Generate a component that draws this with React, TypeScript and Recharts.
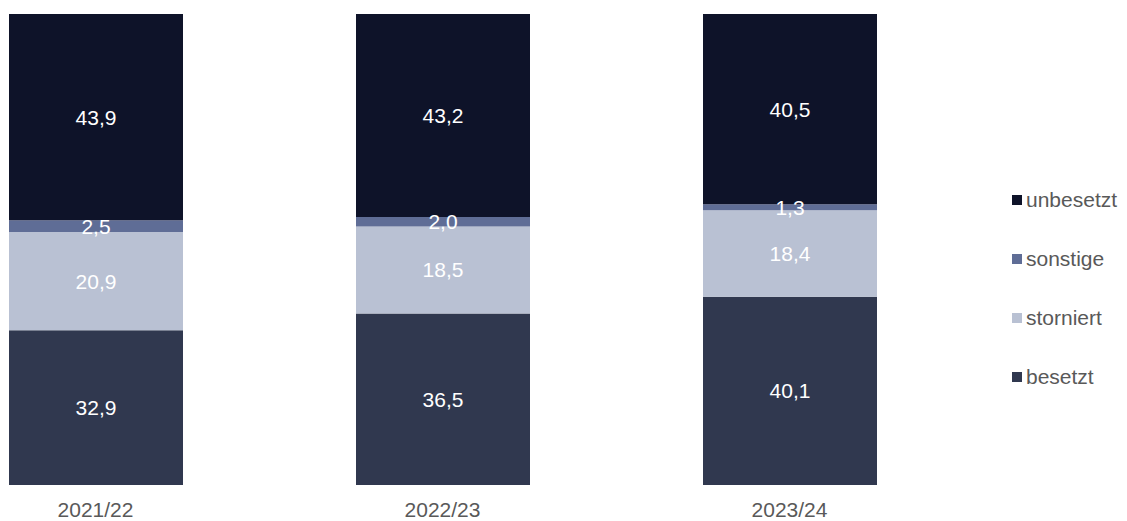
import React from 'react';
import { BarChart, Bar, XAxis, YAxis, Legend, LabelList } from 'recharts';

const periods = ['2021/22', '2022/23', '2023/24'];
const besetzt = [32.9, 36.5, 40.1];
const storniert = [20.9, 18.5, 18.4];
const sonstige = [2.5, 2.0, 1.3];
const unbesetzt = [43.9, 43.2, 40.5];

const seriesNames = ['besetzt', 'storniert', 'sonstige', 'unbesetzt'];
const seriesColors = ['#30384f', '#b9c1d3', '#5f6d96', '#0e1329'];

const data = periods.map((p, i) => ({
  x: i,
  period: p,
  besetzt: besetzt[i],
  storniert: storniert[i],
  sonstige: sonstige[i],
  unbesetzt: unbesetzt[i],
}));

const FONT = '"Liberation Sans", Arial, Helvetica, sans-serif';
const FS = 21;
const W = 1119;
const H = 513;
const LEGEND_W = 110;
// plot from page x=8 to x=8+W-LEGEND_W; category centers at 95.5 + 347*i
const plotLeft = 8;
const plotRight = 8 + W - LEGEND_W;
const step = 347;
const c0 = 95.5;
const domain: [number, number] = [(plotLeft - c0) / step, (plotRight - c0) / step];

const fmt = (v: any) => (typeof v === 'number' ? v.toFixed(1).replace('.', ',') : v);

const LegendContent = () => {
  const items = seriesNames.map((n, k) => ({ name: n, color: seriesColors[k] })).reverse();
  return (
    <div style={{ display: 'flex', flexDirection: 'column' }}>
      {items.map((it) => (
        <div
          key={it.name}
          style={{ height: 59, display: 'flex', alignItems: 'center', fontFamily: FONT, fontSize: FS, color: '#595959' }}
        >
          <span style={{ width: 10, height: 10, background: it.color, display: 'inline-block', marginRight: 4, flex: 'none' }} />
          <span>{it.name}</span>
        </div>
      ))}
    </div>
  );
};

export default function App() {
  return (
    <div style={{ width: W, height: H }}>
      <style>{`html,body{overflow:hidden;}`}</style>
      <BarChart
        width={W}
        height={H}
        data={data}
        stackOffset="expand"
        margin={{ top: 6, right: 0, bottom: 0, left: 0 }}
      >
        <XAxis
          dataKey="x"
          type="number"
          domain={domain}
          allowDataOverflow
          ticks={[0, 1, 2]}
          tickFormatter={(i: number) => periods[i]}
          axisLine={false}
          tickLine={false}
          tickSize={0}
          tickMargin={17}
          height={36}
          tick={{ fill: '#595959', fontSize: FS, fontFamily: FONT }}
        />
        <YAxis hide domain={[0, 1]} />
        <Legend
          layout="vertical"
          align="right"
          verticalAlign="top"
          content={<LegendContent />}
          wrapperStyle={{ position: 'absolute', left: 1004, right: 'auto', top: 162.5, width: LEGEND_W }}
        />
        {seriesNames.map((name, k) => (
          <Bar
            key={name}
            dataKey={name}
            name={name}
            stackId="a"
            fill={seriesColors[k]}
            barSize={174}
            isAnimationActive={false}
          >
            <LabelList
              dataKey={name}
              position="center"
              formatter={fmt}
              fill="#ffffff"
              style={{ fontSize: FS, fontFamily: FONT }}
            />
          </Bar>
        ))}
      </BarChart>
    </div>
  );
}
